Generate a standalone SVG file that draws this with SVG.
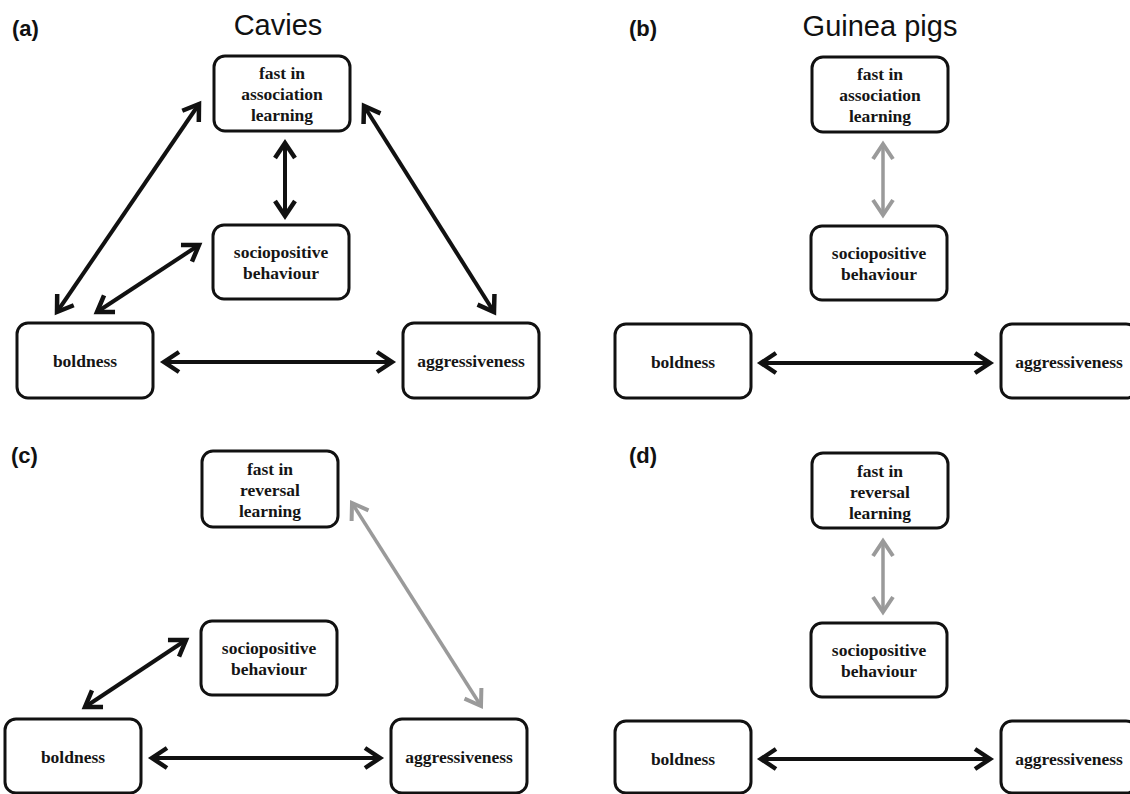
<svg xmlns="http://www.w3.org/2000/svg" width="1130" height="794" viewBox="0 0 1130 794">
<style>
.box{fill:#fff;stroke:#111;stroke-width:3}
.lbl{font-family:"Liberation Serif","Times New Roman",serif;font-weight:bold;font-size:17.5px;fill:#151515;text-anchor:middle}
.pl{font-family:"Liberation Sans",Arial,sans-serif;font-weight:bold;font-size:22px;fill:#111}
.ttl{font-family:"Liberation Sans",Arial,sans-serif;font-size:29px;fill:#111;text-anchor:middle}
.blk{stroke:#111;stroke-width:4;fill:none;marker-start:url(#hb);marker-end:url(#hb)}
.gry{stroke:#9a9a9a;stroke-width:3.5;fill:none;marker-start:url(#hg);marker-end:url(#hg)}
</style>
<defs>
<marker id="hb" markerUnits="userSpaceOnUse" viewBox="-20 -12 24 24" markerWidth="24" markerHeight="24" refX="0" refY="0" orient="auto-start-reverse" overflow="visible">
<path d="M-15,-10 L0,0 L-15,10" fill="none" stroke="#111" stroke-width="4.5" stroke-linejoin="miter"/>
</marker>
<marker id="hg" markerUnits="userSpaceOnUse" viewBox="-20 -12 24 24" markerWidth="24" markerHeight="24" refX="0" refY="0" orient="auto-start-reverse" overflow="visible">
<path d="M-15,-10 L0,0 L-15,10" fill="none" stroke="#9a9a9a" stroke-width="4" stroke-linejoin="miter"/>
</marker>
</defs>
<rect width="1130" height="794" fill="#fff"/>

<g id="panel-labels">
<text class="pl" x="12" y="36">(a)</text>
<text class="ttl" x="278" y="35">Cavies</text>
<text class="pl" x="629" y="36">(b)</text>
<text class="ttl" x="880" y="36">Guinea pigs</text>
<text class="pl" x="11" y="463">(c)</text>
<text class="pl" x="629" y="463">(d)</text>
</g>

<g id="connectors">
<path class="blk" d="M57,312 L199,104"/>
<path class="blk" d="M97,312 L199,245"/>
<path class="blk" d="M285,143 L285,216"/>
<path class="blk" d="M364,106 L494,312"/>
<path class="blk" d="M164,362 L392,362"/>

<path class="gry" d="M883,144 L883,215"/>
<path class="blk" d="M761,363 L990,363"/>

<path class="blk" d="M85,707 L186,640"/>
<path class="gry" d="M352,503 L481,706"/>
<path class="blk" d="M152,758 L380,758"/>

<path class="gry" d="M883,541 L883,612"/>
<path class="blk" d="M761,759 L990,759"/>
</g>

<g id="a-learning"><rect class="box" x="214" y="56" width="136" height="75" rx="11"/>
<text class="lbl" x="282" y="79">fast in</text><text class="lbl" x="282" y="100">association</text><text class="lbl" x="282" y="121">learning</text></g>
<g id="a-socio"><rect class="box" x="213" y="225" width="136" height="74" rx="11"/>
<text class="lbl" x="281" y="258">sociopositive</text><text class="lbl" x="281" y="279">behaviour</text></g>
<g id="a-boldness"><rect class="box" x="17" y="323" width="136" height="75" rx="11"/>
<text class="lbl" x="85" y="367">boldness</text></g>
<g id="a-aggr"><rect class="box" x="403" y="323" width="136" height="75" rx="11"/>
<text class="lbl" x="471" y="367">aggressiveness</text></g>

<g id="b-learning"><rect class="box" x="812" y="57" width="136" height="75" rx="11"/>
<text class="lbl" x="880" y="80">fast in</text><text class="lbl" x="880" y="101">association</text><text class="lbl" x="880" y="122">learning</text></g>
<g id="b-socio"><rect class="box" x="811" y="226" width="136" height="74" rx="11"/>
<text class="lbl" x="879" y="259">sociopositive</text><text class="lbl" x="879" y="280">behaviour</text></g>
<g id="b-boldness"><rect class="box" x="615" y="324" width="136" height="74" rx="11"/>
<text class="lbl" x="683" y="368">boldness</text></g>
<g id="b-aggr"><rect class="box" x="1001" y="324" width="136" height="74" rx="11"/>
<text class="lbl" x="1069" y="368">aggressiveness</text></g>

<g id="c-learning"><rect class="box" x="202" y="451" width="136" height="76" rx="11"/>
<text class="lbl" x="270" y="475">fast in</text><text class="lbl" x="270" y="496">reversal</text><text class="lbl" x="270" y="517">learning</text></g>
<g id="c-socio"><rect class="box" x="201" y="621" width="136" height="74" rx="11"/>
<text class="lbl" x="269" y="654">sociopositive</text><text class="lbl" x="269" y="675">behaviour</text></g>
<g id="c-boldness"><rect class="box" x="5" y="719" width="136" height="74" rx="11"/>
<text class="lbl" x="73" y="763">boldness</text></g>
<g id="c-aggr"><rect class="box" x="391" y="719" width="136" height="74" rx="11"/>
<text class="lbl" x="459" y="763">aggressiveness</text></g>

<g id="d-learning"><rect class="box" x="812" y="453" width="136" height="75" rx="11"/>
<text class="lbl" x="880" y="477">fast in</text><text class="lbl" x="880" y="498">reversal</text><text class="lbl" x="880" y="519">learning</text></g>
<g id="d-socio"><rect class="box" x="811" y="623" width="136" height="74" rx="11"/>
<text class="lbl" x="879" y="656">sociopositive</text><text class="lbl" x="879" y="677">behaviour</text></g>
<g id="d-boldness"><rect class="box" x="615" y="721" width="136" height="72" rx="11"/>
<text class="lbl" x="683" y="765">boldness</text></g>
<g id="d-aggr"><rect class="box" x="1001" y="721" width="136" height="72" rx="11"/>
<text class="lbl" x="1069" y="765">aggressiveness</text></g>
</svg>
